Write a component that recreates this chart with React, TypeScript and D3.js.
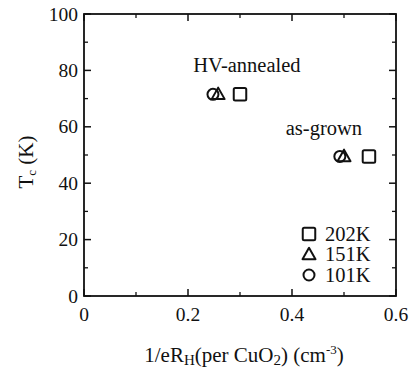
import React from 'react';
import * as d3 from 'd3';

const xTicks = [0, 0.2, 0.4, 0.6];
const xTickLabels = ['0', '0.2', '0.4', '0.6'];
const yTicks = [0, 20, 40, 60, 80, 100];
const xMinor = [0.1, 0.3, 0.5];
const yMinor = [10, 30, 50, 70, 90];

const series = ['202K', '151K', '101K'];
const shapes = ['square', 'triangle', 'circle'];
// [HV-annealed, as-grown]
const xVals = [
  [0.30, 0.548],
  [0.258, 0.50],
  [0.248, 0.492],
];
const yVals = [
  [71.5, 49.5],
  [71.5, 49.5],
  [71.5, 49.5],
];
const annotations = ['HV-annealed', 'as-grown'];
const annX = [0.21, 0.388];
const annY = [79.5, 57];

const W = 417, H = 378;
const L = 84, R = 396, T = 14, B = 296;
const FONT = "'Liberation Serif', 'Times New Roman', 'DejaVu Serif', serif";

function Marker({ shape, cx, cy }: { shape: string; cx: number; cy: number }) {
  if (shape === 'square') {
    const s = 12.5;
    return <rect x={cx - s / 2} y={cy - s / 2} width={s} height={s} rx={1.5} fill="none" stroke="#111" strokeWidth={2} />;
  }
  if (shape === 'triangle') {
    const s = 13;
    const h = 11.5;
    const p = `${cx},${cy - h / 2 - 1} ${cx - s / 2},${cy + h / 2 - 1} ${cx + s / 2},${cy + h / 2 - 1}`;
    return <polygon points={p} fill="none" stroke="#111" strokeWidth={2} strokeLinejoin="round" />;
  }
  return <circle cx={cx} cy={cy} r={5.5} fill="none" stroke="#111" strokeWidth={2} />;
}

export default function App() {
  const x = d3.scaleLinear().domain([0, 0.6]).range([L, R]);
  const y = d3.scaleLinear().domain([0, 100]).range([B, T]);
  const major = 7, minor = 4;
  return (
    <svg width={W} height={H} style={{ position: 'absolute', left: 0, top: 0, background: '#fff', fontFamily: FONT }}>
      <rect x={L} y={T} width={R - L} height={B - T} fill="none" stroke="#111" strokeWidth={1.8} />
      {yTicks.map((t) => (
        <g key={'y' + t}>
          <line x1={L} x2={L + major} y1={y(t)} y2={y(t)} stroke="#111" strokeWidth={1.5} />
          <line x1={R} x2={R - major} y1={y(t)} y2={y(t)} stroke="#111" strokeWidth={1.5} />
          <text x={L - 6} y={y(t) + 6.5} textAnchor="end" fontSize={19.5} fill="#111">{t}</text>
        </g>
      ))}
      {yMinor.map((t) => (
        <g key={'ym' + t}>
          <line x1={L} x2={L + minor} y1={y(t)} y2={y(t)} stroke="#111" strokeWidth={1.3} />
          <line x1={R} x2={R - minor} y1={y(t)} y2={y(t)} stroke="#111" strokeWidth={1.3} />
        </g>
      ))}
      {xTicks.map((t, i) => (
        <g key={'x' + t}>
          <line x1={x(t)} x2={x(t)} y1={B} y2={B - major} stroke="#111" strokeWidth={1.5} />
          <line x1={x(t)} x2={x(t)} y1={T} y2={T + major} stroke="#111" strokeWidth={1.5} />
          <text x={x(t)} y={B + 25} textAnchor="middle" fontSize={19.5} fill="#111">{xTickLabels[i]}</text>
        </g>
      ))}
      {xMinor.map((t) => (
        <g key={'xm' + t}>
          <line x1={x(t)} x2={x(t)} y1={B} y2={B - minor} stroke="#111" strokeWidth={1.3} />
          <line x1={x(t)} x2={x(t)} y1={T} y2={T + minor} stroke="#111" strokeWidth={1.3} />
        </g>
      ))}
      {series.map((s, si) =>
        xVals[si].map((xv, j) => (
          <Marker key={s + j} shape={shapes[si]} cx={x(xv)} cy={y(yVals[si][j])} />
        ))
      )}
      {annotations.map((a, i) => (
        <text key={a} x={x(annX[i])} y={y(annY[i])} fontSize={20.5} fill="#111">{a}</text>
      ))}
      {series.map((s, i) => (
        <g key={'leg' + s}>
          <Marker shape={shapes[i]} cx={309} cy={234 + i * 20.5} />
          <text x={325} y={234 + i * 20.5 + 6.5} fontSize={20.5} fill="#111">{s}</text>
        </g>
      ))}
      <text transform={`translate(33,162) rotate(-90)`} textAnchor="middle" fontSize={21} fill="#111">
        T<tspan fontSize={13} dy={3}>c</tspan><tspan dy={-3}> (K)</tspan>
      </text>
      <text x={244} y={362} textAnchor="middle" fontSize={21} fill="#111">
        1/eR<tspan fontSize={15} dy={3}>H</tspan><tspan dy={-3}>(per CuO</tspan><tspan fontSize={15} dy={3}>2</tspan><tspan dy={-3}>) (cm</tspan><tspan fontSize={13} dy={-8}>-3</tspan><tspan dy={8}>)</tspan>
      </text>
    </svg>
  );
}
